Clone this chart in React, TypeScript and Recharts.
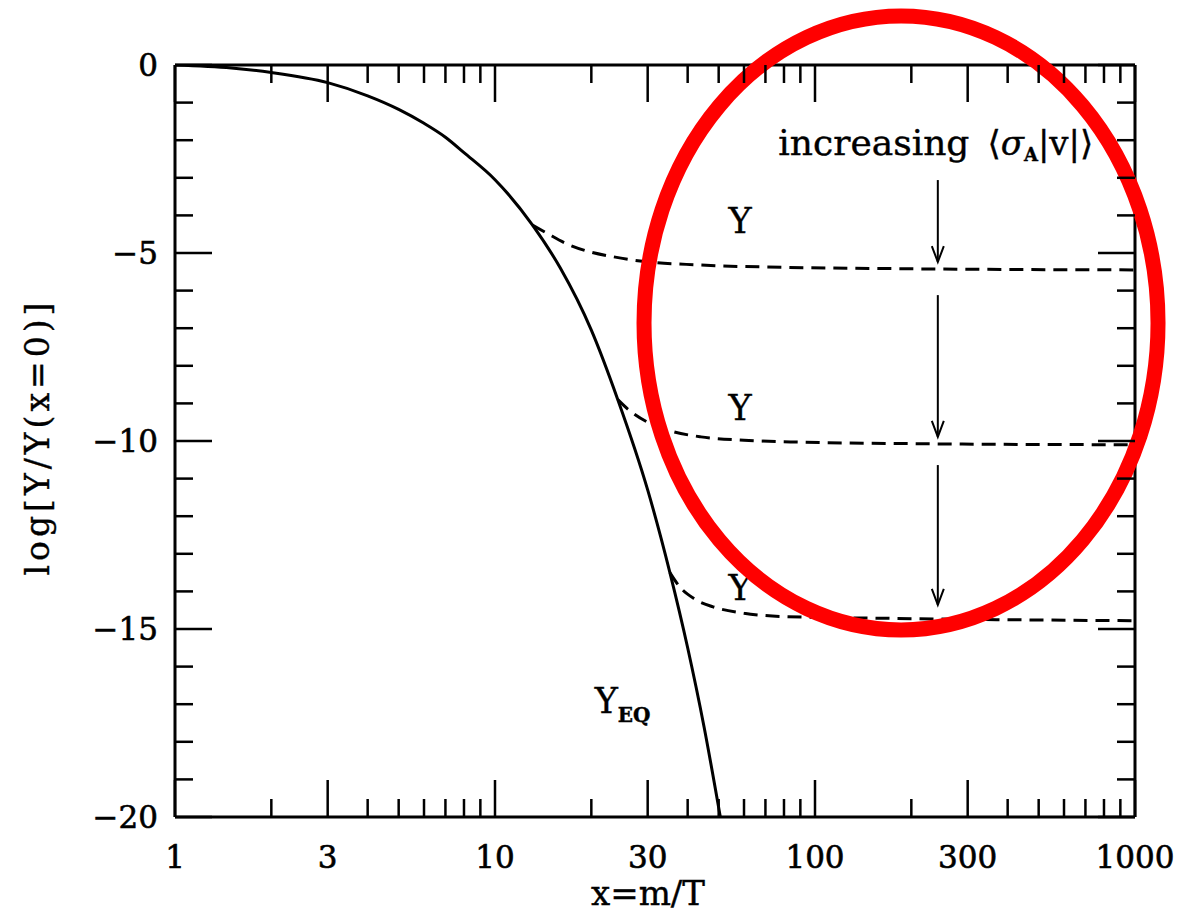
import React from 'react';
import {
  LineChart,
  Line,
  XAxis,
  YAxis,
  ReferenceLine,
  ReferenceDot,
} from 'recharts';

// equilibrium curve Y_EQ
const eqX = [1, 1.5, 2, 3, 4, 5, 6, 7, 8, 10, 13.1, 16, 20, 24.2, 30, 35.2, 40, 45, 50.6];
const eqY = [0, -0.08, -0.2, -0.47, -0.82, -1.18, -1.55, -1.92, -2.33, -3.05, -4.26, -5.4, -7.05, -8.9, -11.3, -13.5, -15.5, -17.6, -20];

// freeze-out curves (dashed)
const fo1X = [13.1, 14.5, 16.7, 19.4, 23.4, 27, 43.7, 80, 200, 1000];
const fo1Y = [-4.26, -4.47, -4.75, -4.95, -5.1, -5.19, -5.32, -5.38, -5.42, -5.45];
const fo2X = [24.2, 26, 30, 35, 44, 60, 90, 200, 1000];
const fo2Y = [-8.9, -9.15, -9.5, -9.72, -9.89, -9.98, -10.03, -10.07, -10.1];
const fo3X = [35.2, 37.8, 42, 48, 60, 80, 180, 1000];
const fo3Y = [-13.5, -13.88, -14.2, -14.41, -14.58, -14.67, -14.72, -14.78];

// axes
const xTicks = [1, 2, 3, 4, 5, 6, 7, 8, 9, 10, 20, 30, 40, 50, 60, 70, 80, 90, 100, 200, 300, 400, 500, 600, 700, 800, 900, 1000];
const xMajor = [1, 3, 10, 30, 100, 300, 1000];
const yTicks = [0, -1, -2, -3, -4, -5, -6, -7, -8, -9, -10, -11, -12, -13, -14, -15, -16, -17, -18, -19, -20];
const yMajor = [0, -5, -10, -15, -20];

// annotation arrows at x = 242: [from, to]
const arrowX = 242;
const arrowSpans = [
  [-3.06, -5.24],
  [-6.12, -9.89],
  [-10.64, -14.36],
];
const yLabelPos = [
  [58.3, -4.47],
  [58.3, -9.44],
  [58.3, -14.23],
];

const toPoints = (xs: number[], ys: number[]) => xs.map((x, i) => ({ x, y: ys[i] }));

const W = 1200;
const H = 916;
const TOP = 65;
const RIGHT = 65;
const YW = 175;
const XH = 99;
const PLOT_RIGHT = W - RIGHT;
const FONT = '"DejaVu Serif", serif';

const XTick = (props: any) => {
  const { x, y, payload } = props;
  const v = payload.value;
  const major = xMajor.includes(v);
  const len = major ? 37 : 18;
  return (
    <g>
      <line x1={x} x2={x} y1={y} y2={y - len} stroke="#000" strokeWidth={2.5} />
      <line x1={x} x2={x} y1={TOP} y2={TOP + len} stroke="#000" strokeWidth={2.5} />
      {major && (
        <text x={x} y={y + 51} textAnchor="middle" fontFamily={FONT} fontSize={31} fill="#000" stroke="#000" strokeWidth={0.6}>
          {v}
        </text>
      )}
    </g>
  );
};

const YTick = (props: any) => {
  const { x, y, payload } = props;
  const v = payload.value;
  const major = yMajor.includes(v);
  const len = major ? 37 : 18;
  return (
    <g>
      <line x1={x} x2={x + len} y1={y} y2={y} stroke="#000" strokeWidth={2.5} />
      <line x1={PLOT_RIGHT} x2={PLOT_RIGHT - len} y1={y} y2={y} stroke="#000" strokeWidth={2.5} />
      {major && (
        <text x={x - 17} y={y + 11} textAnchor="end" fontFamily={FONT} fontSize={31} fill="#000" stroke="#000" strokeWidth={0.6}>
          {v === 0 ? '0' : '\u2212' + Math.abs(v)}
        </text>
      )}
    </g>
  );
};

const Arrow = (p: any) => (
  <g>
    <line x1={p.x1} y1={p.y1} x2={p.x2} y2={p.y2} stroke="#000" strokeWidth={2} />
    <path
      d={`M${p.x2 - 6},${p.y2 - 16} L${p.x2},${p.y2} L${p.x2 + 6},${p.y2 - 16}`}
      fill="none"
      stroke="#000"
      strokeWidth={2}
    />
  </g>
);

const App: React.FC = () => {
  return (
    <div style={{ position: 'absolute', left: 0, top: 0, background: '#fff' }}>
      <LineChart width={W} height={H} margin={{ top: TOP, right: RIGHT, left: 0, bottom: 0 }}>
        <XAxis
          dataKey="x"
          type="number"
          scale="log"
          domain={[1, 1000]}
          allowDataOverflow
          ticks={xTicks}
          interval={0}
          height={XH}
          tickSize={0}
          tickMargin={0}
          tickLine={false}
          tick={<XTick />}
          axisLine={{ stroke: '#000', strokeWidth: 3 }}
          label={{
            content: (p: any) => {
              const vb = p.viewBox;
              return (
                <text x={vb.x + vb.width / 2 - 7} y={905} textAnchor="middle" fontFamily={FONT} fontSize={34} fill="#000" stroke="#000" strokeWidth={0.4}>
                  x=m/T
                </text>
              );
            },
          }}
        />
        <YAxis
          type="number"
          domain={[-20, 0]}
          allowDataOverflow
          ticks={yTicks}
          interval={0}
          width={YW}
          tickSize={0}
          tickMargin={0}
          tickLine={false}
          tick={<YTick />}
          axisLine={{ stroke: '#000', strokeWidth: 3 }}
          label={{
            content: (p: any) => {
              const vb = p.viewBox;
              const cy = vb.y + vb.height / 2 - 4;
              return (
                <text
                  x={37}
                  y={cy}
                  transform={`rotate(-90, 37, ${cy})`}
                  textAnchor="middle"
                  dominantBaseline="central"
                  fontFamily={FONT}
                  fontSize={33}
                  letterSpacing={4}
                  fill="#000"
                  stroke="#000"
                  strokeWidth={0.4}
                >
                  log[Y/Y(x=0)]
                </text>
              );
            },
          }}
        />
        <ReferenceLine y={0} stroke="#000" strokeWidth={3} />
        <ReferenceLine x={1000} stroke="#000" strokeWidth={3} />

        <Line data={toPoints(eqX, eqY)} dataKey="y" type="monotone" stroke="#000" strokeWidth={3} dot={false} isAnimationActive={false} />
        <Line data={toPoints(fo1X, fo1Y)} dataKey="y" type="monotone" stroke="#000" strokeWidth={3} strokeDasharray="14 8" dot={false} isAnimationActive={false} />
        <Line data={toPoints(fo2X, fo2Y)} dataKey="y" type="monotone" stroke="#000" strokeWidth={3} strokeDasharray="14 8" dot={false} isAnimationActive={false} />
        <Line data={toPoints(fo3X, fo3Y)} dataKey="y" type="monotone" stroke="#000" strokeWidth={3} strokeDasharray="14 8" dot={false} isAnimationActive={false} />

        {arrowSpans.map(([a, b], i) => (
          <ReferenceLine key={`arr${i}`} segment={[{ x: arrowX, y: a }, { x: arrowX, y: b }]} shape={<Arrow />} />
        ))}

        <ReferenceDot
          x={arrowX}
          y={-2.39}
          r={0}
          shape={(p: any) => (
            <text x={p.cx - 2} y={p.cy} textAnchor="middle" fontFamily={FONT} fontSize={36} fill="#000" stroke="#000" strokeWidth={0.4}>
              increasing{'\u2002'}
              <tspan fontSize={34}>{'\u27E8'}</tspan>
              <tspan fontSize={34} fontStyle="italic">σ</tspan>
              <tspan fontSize={18} fontWeight="bold" dy={6}>A</tspan>
              <tspan fontSize={34} dy={-6}>|v|{'\u27E9'}</tspan>
            </text>
          )}
        />
        {yLabelPos.map(([x, y], i) => (
          <ReferenceDot
            key={`yl${i}`}
            x={x}
            y={y}
            r={0}
            shape={(p: any) => (
              <text x={p.cx} y={p.cy} textAnchor="middle" fontFamily={FONT} fontSize={35} fill="#000" stroke="#000" strokeWidth={0.4}>
                Y
              </text>
            )}
          />
        ))}
        <ReferenceDot
          x={20.5}
          y={-17.23}
          r={0}
          shape={(p: any) => (
            <text x={p.cx} y={p.cy} fontFamily={FONT} fontSize={35} fill="#000" stroke="#000" strokeWidth={0.4}>
              Y
              <tspan fontSize={20} fontWeight="bold" dy={9}>EQ</tspan>
            </text>
          )}
        />

        <ReferenceDot
          x={185.7}
          y={-6.86}
          r={0}
          ifOverflow="visible"
          shape={(p: any) => (
            <ellipse cx={p.cx} cy={p.cy} rx={257} ry={307} fill="none" stroke="#ff0000" strokeWidth={15} />
          )}
        />
      </LineChart>
    </div>
  );
};

export default App;
